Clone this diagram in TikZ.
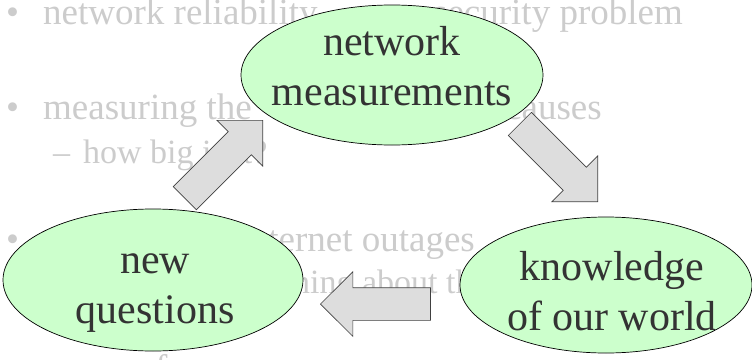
\documentclass[tikz,border=0pt]{standalone}
\usepackage{fontspec}
\setmainfont{Liberation Serif}
\usetikzlibrary{shapes.geometric,shapes.arrows}
\definecolor{bubbleGreen}{HTML}{CCFFCC}
\definecolor{arrowGray}{HTML}{DDDDDD}
\tikzset{
  bubble/.style={ellipse, draw=black, fill=bubbleGreen, line width=0.7pt, inner sep=0pt},
  bubbleText/.style={align=center, text=black!80, font=\fontsize{42}{50}\selectfont, inner sep=0pt},
  blockArrow/.style={single arrow, draw=black!75, fill=arrowGray, line width=0.7pt, anchor=tip,
    minimum height=110pt, inner xsep=0pt, inner ysep=16pt, single arrow head extend=16pt},
  faded/.style={text=black!20, font=\fontsize{37}{44}\selectfont, inner sep=0pt, anchor=base west},
  fadedSub/.style={faded, font=\fontsize{34}{40}\selectfont}
}

\begin{document}
\begin{tikzpicture}[x=1pt, y=-1pt]
  \clip (0,0) rectangle (752,359);
  \fill[white] (0,0) rectangle (752,359);

  % the bullet list in the background
  \node[faded] (dot1) at (6,24) {•};
  \node[faded] (line1a) at (43,24) {network reliability};
  \node[faded, anchor=base east] (line1b) at (683,24) {security problem};
  \node[faded] (dot2) at (6,119) {•};
  \node[faded] (line2a) at (43,119) {measuring the};
  \node[faded, anchor=base east] (line2b) at (602,119) {causes};
  \node[fadedSub] (dash3) at (53,163) {–};
  \node[fadedSub] (line3) at (83,163) {how big is it?};
  \node[faded] (dot4) at (6,251) {•};
  \node[faded, anchor=base east] (line4) at (475,251) {Internet outages};
  \node[fadedSub] (line5) at (242,293) {learning about them};
  \node[faded] (line6) at (155,380) {f};

  % the three bubbles
  \node[bubble, minimum width=302pt, minimum height=140pt] (meas) at (392,75) {};
  \node[bubble, minimum width=300pt, minimum height=142pt] (quest) at (153,280) {};
  \node[bubble, minimum width=292pt, minimum height=136pt] (world) at (606,285) {};

  \node[bubbleText] (measText) at (392,65.8) {network\\measurements};
  \node[bubbleText] (questText) at (155,293.2) {new\\questions};
  \node[bubbleText] (worldText) at (612,291.6) {knowledge\\of our world};

  % block arrows going round the cycle, placed by their tips
  \node[blockArrow, rotate=45] (toMeas) at (263,120) {};
  \node[blockArrow, rotate=-45] (toWorld) at (598,202) {};
  \node[blockArrow, rotate=180] (toQuest) at (320,304) {};
\end{tikzpicture}
\end{document}
